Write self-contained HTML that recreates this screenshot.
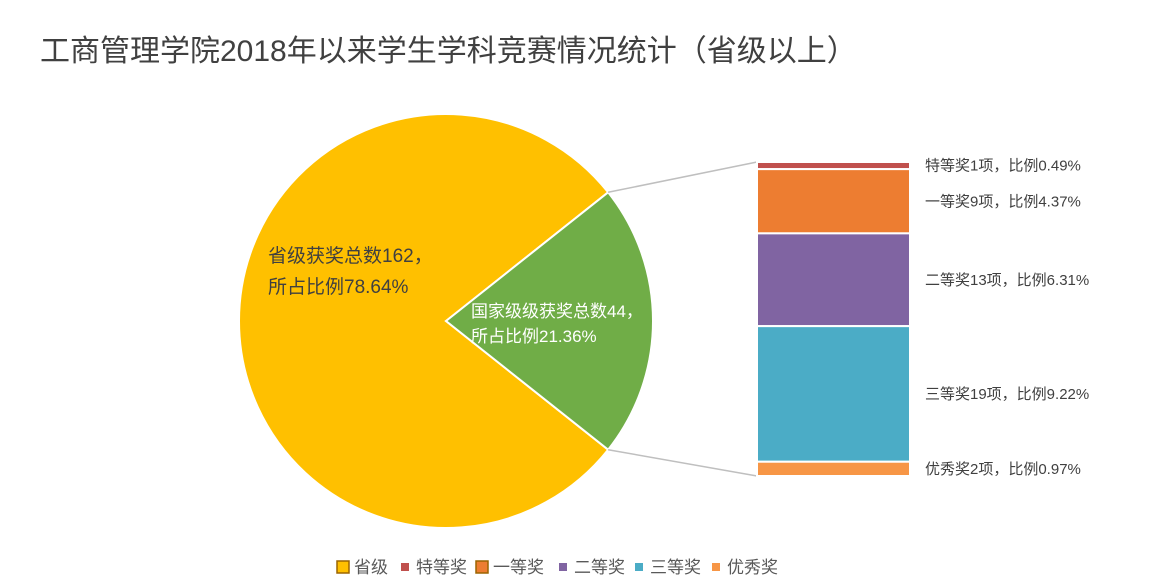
<!DOCTYPE html>
<html><head><meta charset="utf-8"><style>
body{margin:0;background:#fff;}
svg{display:block;font-family:"Liberation Sans","Noto Sans CJK SC",sans-serif;}
</style></head><body>
<svg id="c" width="1163" height="585" viewBox="0 0 1163 585">
<text x="40" y="61" font-size="30" fill="#404040">工商管理学院2018年以来学生学科竞赛情况统计（省级以上）</text>
<g id="pie"></g><g id="bar"></g><g id="legend"></g>
</svg>
<script>
const pieCats=["省级","国家级"];
const pieVals=[162,44];
const barCats=["特等奖","一等奖","二等奖","三等奖","优秀奖"];
const barVals=[1,9,13,19,2];
const barPct=["0.49%","4.37%","6.31%","9.22%","0.97%"];
const NS="http://www.w3.org/2000/svg";
function mk(t,a,p){const e=document.createElementNS(NS,t);for(const k in a)e.setAttribute(k,a[k]);p.appendChild(e);return e;}
const cx=446,cy=321,R=207;
const pg=document.getElementById('pie');
const tot=pieVals[0]+pieVals[1];
const nat=pieVals[1]/tot*2*Math.PI;
function pt(a){return [cx+R*Math.cos(a),cy-R*Math.sin(a)];}
const a1=nat/2,a2=-nat/2;
const p1=pt(a1),p2=pt(a2);
let s=mk('path',{d:`M${cx},${cy} L${p1[0]},${p1[1]} A${R},${R} 0 1 0 ${p2[0]},${p2[1]} Z`,fill:'#FFC000',stroke:'#fff','stroke-width':2},pg);


s=mk('path',{d:`M${cx},${cy} L${p1[0]},${p1[1]} A${R},${R} 0 0 1 ${p2[0]},${p2[1]} Z`,fill:'#70AD47',stroke:'#fff','stroke-width':2},pg);


// bar
const bx=757,bw=153,by0=162,bh=314;
const bsum=barVals.reduce((a,b)=>a+b,0);
const cols=['#C0504D','#ED7D31','#8064A2','#4BACC6','#F79646'];
const bg=document.getElementById('bar');
let l=mk('line',{x1:p1[0],y1:p1[1],x2:bx,y2:by0,stroke:'#BFBFBF','stroke-width':1.5},bg);


l=mk('line',{x1:p2[0],y1:p2[1],x2:bx,y2:by0+bh,stroke:'#BFBFBF','stroke-width':1.5},bg);


let y=by0;
barVals.forEach((v,i)=>{
  const h=v/bsum*bh;
  const r=mk('rect',{x:bx,y:y,width:bw,height:h,fill:cols[i],stroke:'#fff','stroke-width':2},bg);
  
  
  const t=mk('text',{x:925,y:y+h/2+5,'font-size':15,fill:'#404040'},bg);
  t.textContent=barCats[i]+barVals[i]+'项，比例'+barPct[i];
  
  
  y+=h;
});
// pie labels
const provPct=(pieVals[0]/tot*100).toFixed(2)+'%', natPct=(pieVals[1]/tot*100).toFixed(2)+'%';
let t=mk('text',{x:268,y:262,'font-size':19,fill:'#404040'},pg);
t.textContent=pieCats[0]+'获奖总数'+pieVals[0]+'，';


t=mk('text',{x:268,y:293,'font-size':19,fill:'#404040'},pg);
t.textContent='所占比例'+provPct;


t=mk('text',{x:471,y:317,'font-size':17,fill:'#fff'},pg);
t.textContent=pieCats[1]+'级获奖总数'+pieVals[1]+'，';


t=mk('text',{x:471,y:342,'font-size':17,fill:'#fff'},pg);
t.textContent='所占比例'+natPct;


// legend
const lg=document.getElementById('legend');
const legNames=["省级"].concat(barCats);
const legCols=['#FFC000'].concat(cols);
const legX=[337,399,476,557,633,710];
legNames.forEach((n,i)=>{
  const big=(i===0||i===2);
  const sz=big?12:8;
  const r=mk('rect',{x:legX[i]+(big?0:2),y:567-sz/2,width:sz,height:sz,fill:legCols[i],stroke:big?'#9C6500':'none','stroke-width':big?1.5:0},lg);
  
  
  const tx=mk('text',{x:legX[i]+17,y:573,'font-size':17,fill:'#595959'},lg);
  tx.textContent=n;
  
  
});
</script>
</body></html>
